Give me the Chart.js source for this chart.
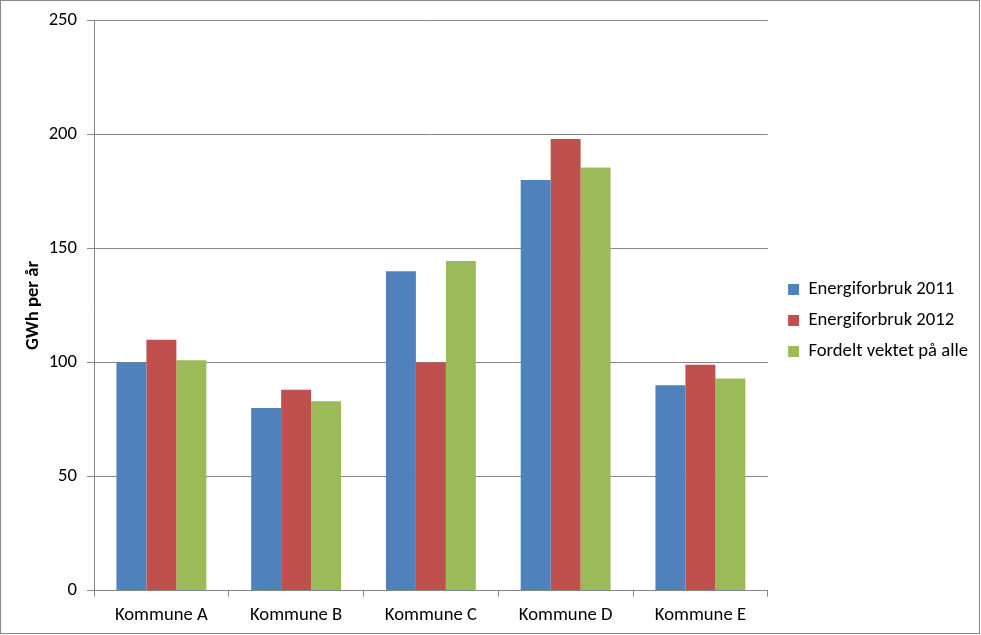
<!DOCTYPE html>
<html>
<head>
<meta charset="utf-8">
<script src="https://cdn.jsdelivr.net/npm/chart.js@4"></script>
<style>
  body { margin: 0; background: #fff; }
  #wrap { position: relative; width: 978px; height: 632px; border: 1px solid #868686; }
</style>
</head>
<body>
<div id="wrap"><canvas id="chart"></canvas></div>
<script>
// Data
const categories = ['Kommune A', 'Kommune B', 'Kommune C', 'Kommune D', 'Kommune E'];
const seriesNames = ['Energiforbruk 2011', 'Energiforbruk 2012', 'Fordelt vektet på alle'];
const forbruk2011 = [100, 80, 140, 180, 90];
const forbruk2012 = [110, 88, 100, 198, 99];
const fordelt = [101, 83, 144.5, 185.5, 93];
const yTicks = [0, 50, 100, 150, 200, 250];

const colors = ['#4F81BD', '#C0504D', '#9BBB59'];
const fontFamily = 'Calibri, Carlito, Lato, sans-serif';
const fontSize = 18.67;
const gridColor = '#868686';

const ctx = document.getElementById('chart').getContext('2d');
Chart.defaults.font.family = fontFamily;
Chart.defaults.color = '#000';

// skyv legenden litt bort fra plottet, som i originalen
const legendGap = {
    id: 'legendGap',
    afterLayout(chart) {
        if (chart.legend) chart.legend.left += 8;
    }
};

new Chart(ctx, {
    type: 'bar',
    data: {
        labels: categories,
        datasets: [forbruk2011, forbruk2012, fordelt].map((d, i) => ({
            label: seriesNames[i],
            data: d,
            backgroundColor: colors[i],
            borderWidth: 0,
            categoryPercentage: 0.667,
            barPercentage: 1
        }))
    },
    options: {
        responsive: true,
        maintainAspectRatio: false,
        animation: false,
        layout: { padding: { top: 5, right: 9, left: 21, bottom: -2 } },
        plugins: {
            legend: {
                position: 'right',
                labels: {
                    boxWidth: 11,
                    boxHeight: 11,
                    padding: 12.3,
                    font: { size: fontSize },
                    color: '#000'
                }
            },
            tooltip: { enabled: false }
        },
        scales: {
            x: {
                grid: {
                    offset: true,
                    drawOnChartArea: false,
                    tickLength: 6,
                    color: gridColor
                },
                border: { color: gridColor },
                ticks: { font: { size: fontSize }, color: '#000', padding: 8 }
            },
            y: {
                min: 0,
                max: 250,
                afterBuildTicks: (scale) => { scale.ticks = yTicks.map(v => ({ value: v })); },
                afterFit: (scale) => { scale.width = 72; },
                grid: { color: gridColor, tickLength: 7 },
                border: { color: gridColor },
                ticks: { font: { size: fontSize, lineHeight: 1 }, color: '#000', padding: 10 },
                title: {
                    display: true,
                    text: 'GWh per år',
                    font: { size: fontSize, weight: 'bold' },
                    color: '#000',
                    padding: { top: 0, bottom: 5 }
                }
            }
        }
    },
    plugins: [legendGap]
});
</script>
</body>
</html>
